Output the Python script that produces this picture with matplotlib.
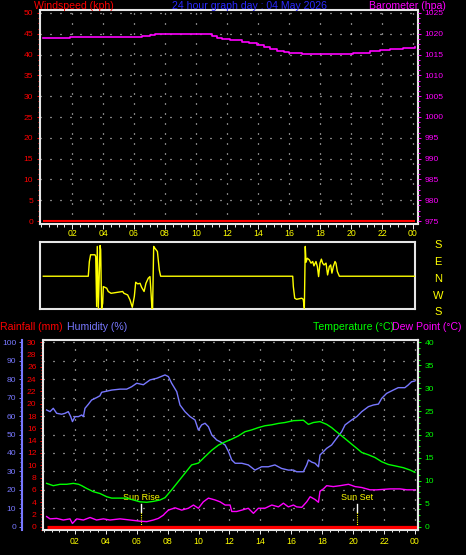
import matplotlib
matplotlib.use('Agg')
import matplotlib.pyplot as plt
from matplotlib.ticker import MultipleLocator, FixedLocator, NullFormatter

plt.rcParams['font.family'] = ['Liberation Sans', 'DejaVu Sans']

# ---------------- data ----------------
title = "24 hour graph day : 04 May 2026"
hour_ticks = [2, 4, 6, 8, 10, 12, 14, 16, 18, 20, 22, 24]
hour_labels = ['02', '04', '06', '08', '10', '12', '14', '16', '18', '20', '22', '00']

wind_hours = [0.15, 24.13]
wind_kph = [0.0, 0.0]

baro_hours = [0.15, 1.87, 1.9, 3.16, 3.81, 5.96, 6.49, 7.03, 7.35, 10.69, 11.0, 11.33, 11.66,
              12.2, 12.98, 13.4, 13.95, 14.38, 14.8, 15.24, 15.67, 15.99, 16.85, 18.57,
              20.15, 21.22, 21.87, 22.52, 23.38, 24.13]
baro_hpa = [1018.9, 1018.9, 1019.2, 1019.3, 1019.3, 1019.3, 1019.5, 1019.7, 1019.9, 1019.9,
            1019.5, 1019.1, 1018.75, 1018.5, 1018.0, 1017.7, 1017.3, 1016.8, 1016.3, 1015.9,
            1015.7, 1015.3, 1015.1, 1015.1, 1015.5, 1015.9, 1016.2, 1016.3, 1016.5, 1016.75]

dir_hours = [0.15, 3.05, 3.12, 3.20, 3.48, 3.53, 3.59, 3.63, 3.70, 3.81, 3.85, 3.91, 3.98, 4.02,
             4.24, 4.34, 4.52, 5.27, 5.35, 5.59, 5.74, 5.89, 6.02, 6.11, 6.24, 6.39, 6.49, 6.65,
             6.77, 6.92, 7.03, 7.08, 7.16, 7.20, 7.27, 7.35, 7.51, 7.63, 7.72, 16.24, 16.28,
             16.37, 16.49, 16.82, 16.92, 16.99, 17.05, 17.10, 17.18, 17.31, 17.42, 17.53, 17.61,
             17.74, 17.83, 17.91, 18.0, 18.09, 18.17, 18.26, 18.39, 18.49, 18.60, 18.69, 18.77,
             18.86, 18.97, 19.03, 19.12, 19.25, 24.13]
dir_deg = [0, 0, 81, 118, 118, 108, 193, 164, 184, 169, 145, 180, 211, 303,
           294, 276, 266, 276, 266, 257, 230, 189, 248, 327, 318, 321, 299, 276,
           321, 349, 358, 294, 180, 184, 164, 154, 136, 35, 0, 0, 303,
           239, 233, 239, 233, 184, 164, 77, 99, 90, 72, 81, 57,
           81, 53, 358, 72, 94, 72, 62, 72, 7, 53, 62, 17,
           53, 81, 72, 26, 0, 0]
dir_labels = ['S', 'E', 'N', 'W', 'S']

hum_hours = [0.17, 0.39, 0.6, 0.82, 1.14, 1.36, 1.57, 1.73, 1.84, 2.01, 2.23, 2.44, 2.55, 2.65,
             2.87, 3.08, 3.4, 3.62, 3.73, 4.06, 4.38, 4.92, 5.35, 5.67, 6.0, 6.43, 6.86, 7.3,
             7.83, 8.05, 8.26, 8.59, 8.8, 9.12, 9.45, 9.77, 9.99, 10.2, 10.42, 10.64, 10.86,
             11.18, 11.39, 11.72, 11.94, 12.15, 12.37, 12.8, 13.22, 13.65, 14.08, 14.51, 14.94,
             15.37, 15.81, 16.14, 16.35, 16.78, 17.0, 17.11, 17.33, 17.54, 17.76, 17.86, 18.08,
             18.29, 18.61, 18.93, 19.26, 19.48, 19.91, 20.24, 20.56, 20.99, 21.31, 21.64, 21.85,
             22.17, 22.6, 22.92, 23.35, 23.56, 23.78, 23.99]
hum_pct = [63.3, 62.4, 64.2, 61.5, 61.0, 61.5, 62.4, 59.7, 57.0, 59.7, 59.7, 60.6, 59.7, 64.2,
           66.4, 68.7, 70.0, 71.0, 72.9, 73.5, 74.1, 74.6, 74.6, 75.9, 77.8, 77.0, 79.6, 80.5,
           82.3, 81.4, 77.8, 73.2, 66.0, 62.4, 59.7, 57.9, 52.4, 55.2, 56.1, 54.2, 49.7,
           47.0, 46.1, 44.3, 40.7, 36.2, 34.4, 34.4, 33.5, 30.7, 32.5, 32.5, 33.5,
           31.6, 30.7, 30.7, 29.8, 29.8, 33.5, 36.2, 35.0, 34.4, 32.5, 38.9, 40.7,
           42.5, 44.3, 47.9, 51.5, 55.2, 57.9, 59.7, 62.4, 65.1, 66.0, 66.5, 69.6,
           72.3, 74.1, 75.4, 75.4, 76.8, 78.6, 79.0]

temp_hours = [0.17, 0.6, 1.04, 1.46, 1.9, 2.24, 2.44, 2.76, 3.19, 3.62, 4.06, 4.38, 4.92, 5.35,
              5.78, 6.21, 6.65, 7.08, 7.51, 7.83, 8.26, 8.69, 9.12, 9.55, 9.99, 10.42, 10.86,
              11.29, 11.72, 12.15, 12.58, 13.0, 13.44, 13.87, 14.3, 14.73, 15.16, 15.59, 16.14,
              16.78, 17.11, 17.43, 17.86, 18.29, 18.61, 18.93, 19.26, 19.59, 19.91, 20.24,
              20.56, 20.99, 21.42, 21.85, 22.28, 22.71, 23.25, 23.68, 24.0]
temp_c = [9.4, 8.9, 9.2, 9.2, 9.4, 9.2, 8.9, 8.3, 7.6, 7.2, 6.5, 6.2, 6.2, 6.2,
          5.8, 5.4, 5.3, 5.5, 5.8, 6.3, 8.0, 9.8, 11.6, 13.4, 13.8, 15.2, 16.6,
          17.7, 18.4, 19.0, 19.7, 20.6, 21.0, 21.5, 21.9, 22.1, 22.4, 22.6, 23.0,
          23.1, 22.2, 22.6, 22.8, 22.2, 21.5, 20.6, 19.7, 18.8, 17.9, 17.0,
          16.1, 15.6, 15.0, 14.1, 13.5, 13.2, 12.8, 12.3, 11.8]

dew_hours = [0.17, 0.39, 0.82, 1.25, 1.68, 1.84, 2.12, 2.55, 2.98, 3.4, 3.84, 4.27, 4.92, 5.57,
             6.21, 6.65, 7.08, 7.4, 7.72, 7.83, 8.05, 8.48, 8.91, 9.34, 9.67, 9.99, 10.31,
             10.64, 11.07, 11.39, 11.72, 12.04, 12.15, 12.47, 12.8, 13.22, 13.55, 13.87, 14.3,
             14.74, 15.17, 15.49, 15.81, 16.14, 16.35, 16.68, 17.0, 17.22, 17.54, 17.76, 17.86,
             18.08, 18.29, 18.72, 19.16, 19.7, 20.13, 20.56, 21.1, 21.53, 22.4, 23.04, 23.48, 24.01]
dew_c = [2.2, 1.7, 1.8, 1.45, 1.7, 0.7, 1.7, 1.45, 2.0, 1.45, 1.7, 1.45, 1.7, 1.45,
         1.2, 1.1, 1.45, 1.8, 2.5, 2.9, 3.6, 4.1, 3.6, 4.0, 4.7, 4.0, 5.4,
         6.2, 5.8, 5.4, 4.7, 4.7, 3.3, 3.3, 3.6, 4.0, 2.9, 4.0, 4.0,
         4.7, 4.3, 5.1, 4.3, 4.7, 4.3, 4.2, 5.4, 6.5, 5.9, 5.3, 7.7,
         8.2, 8.9, 8.7, 8.9, 9.2, 8.7, 8.5, 8.0, 8.0, 8.2, 8.2, 8.0, 8.0]

rain_hours = [0.17, 24.2]
rain_mm = [0.0, 0.0]

sun_events = ['Sun Rise', 'Sun Set']
sun_hours = [6.3, 20.28]

# ---------------- style ----------------
W, H = 466, 555
PX = 0.72  # points per pixel at 100 dpi
RED, MAG, GRN, YEL = '#ff0000', '#ff00ff', '#00ff00', '#ffff00'
HUMC, TITC = '#7878ff', '#2a2aff'
FRAME, GRIDC = '#e6e6e6', '#ffffff'
DOTS = (0, (0.8, 7.2))
YLAB, XLAB, HEAD = 6.1, 6.3, 7.6

fig = plt.figure(figsize=(W / 100, H / 100), dpi=100, facecolor='black')


def box(x0, y0, x1, y1):
    return [x0 / W, 1 - y1 / H, (x1 - x0) / W, (y1 - y0) / H]


def ftext(x, y, s, **kw):
    fig.text(x / W, 1 - y / H, s, **kw)


def frame(ax, sides=('left', 'right', 'top', 'bottom')):
    for k, sp in ax.spines.items():
        if k in sides:
            sp.set_visible(True)
            sp.set_color(FRAME)
            sp.set_linewidth(1.5)
        else:
            sp.set_visible(False)


def grid(ax, xs, ys):
    for x in xs:
        ax.axvline(x, color=GRIDC, lw=0.9, ls=DOTS, zorder=0.5)
    for y in ys:
        ax.axhline(y, color=GRIDC, lw=0.9, ls=DOTS, zorder=0.5)


# ---------------- top panel: wind speed & barometer ----------------
ax1 = fig.add_axes(box(40, 10, 418, 224))
ax1.set_facecolor('black')
ax1.set_xlim(-0.065, 24.32)
ax1.set_ylim(-0.72, 50.72)
ax1b = ax1.twinx()
ax1b.set_ylim(975 - 0.72, 1025.72)
frame(ax1)
frame(ax1b, ())
grid(ax1, hour_ticks, [5, 10, 15, 20, 25, 30, 35, 40, 45, 50])

ax1.yaxis.set_major_locator(MultipleLocator(5))
ax1.yaxis.set_minor_locator(MultipleLocator(1.25))
ax1.tick_params(axis='y', which='major', colors=RED, labelsize=YLAB, length=3.3 * PX, width=PX, pad=3.5 * PX)
ax1.tick_params(axis='y', which='minor', colors=RED, length=1.8 * PX, width=PX)
ax1b.yaxis.set_major_locator(MultipleLocator(5))
ax1b.yaxis.set_minor_locator(MultipleLocator(1.25))
ax1b.tick_params(axis='y', which='major', colors=MAG, labelsize=YLAB, length=3.3 * PX, width=PX, pad=3.5 * PX)
ax1b.tick_params(axis='y', which='minor', colors=MAG, length=1.8 * PX, width=PX)
ax1.xaxis.set_major_locator(FixedLocator(hour_ticks))
ax1.xaxis.set_minor_locator(MultipleLocator(0.5))
ax1.xaxis.set_major_formatter(NullFormatter())
ax1.tick_params(axis='x', which='major', colors=FRAME, length=5 * PX, width=PX)
ax1.tick_params(axis='x', which='minor', colors=FRAME, length=3 * PX, width=PX)

ax1.plot(wind_hours, wind_kph, color=RED, lw=1.5, solid_capstyle='butt', zorder=3)
ax1b.plot(baro_hours, baro_hpa, color=MAG, lw=1.2, drawstyle='steps-post', zorder=3)

ftext(34, 6, 'Windspeed (kph)', color=RED, fontsize=HEAD, ha='left', va='center')
ftext(250, 6, title, color=TITC, fontsize=HEAD, ha='center', va='center')
ftext(446, 6, 'Barometer (hpa)', color=MAG, fontsize=HEAD, ha='right', va='center')

# ---------------- middle panel: wind direction ----------------
ax2 = fig.add_axes(box(40, 241.7, 415, 309.3))
ax2.set_facecolor('black')
ax2.set_xlim(-0.065, 24.13)
ax2.set_ylim(178, 550)
frame(ax2)
ax2.set_yticks([])
ax2.xaxis.tick_top()
ax2.set_xticks(hour_ticks)
ax2.set_xticklabels(hour_labels)
ax2.tick_params(axis='x', colors=YEL, labelsize=XLAB, length=0, pad=2.5)
dir_plot = [d + 360 if d < 180 else d for d in dir_deg]
ax2.plot(dir_hours, dir_plot, color=YEL, lw=1.0, zorder=3)
for lab, yy in zip(dir_labels, [245, 262, 279, 296, 312]):
    ftext(438, yy, lab, color=YEL, fontsize=8, ha='center', va='center')

# ---------------- bottom panel ----------------
ax3 = fig.add_axes(box(43, 340, 418, 530))
ax3.set_facecolor('black')
ax3.set_xlim(-0.065, 24.2)
ax3.set_ylim(-1.79, 101.25)
frame(ax3, ('top', 'bottom', 'right'))
ax3.spines['left'].set_visible(True)
ax3.spines['left'].set_position(('outward', 21.3 * PX))
ax3.spines['left'].set_color(HUMC)
ax3.spines['left'].set_linewidth(1.5)
ax3.yaxis.set_major_locator(MultipleLocator(10))
ax3.yaxis.set_minor_locator(MultipleLocator(2.5))
ax3.tick_params(axis='y', which='major', colors=HUMC, labelsize=YLAB, length=3 * PX, width=PX, pad=2.5 * PX)
ax3.tick_params(axis='y', which='minor', colors=HUMC, length=1.6 * PX, width=PX)
ax3.set_xticks(hour_ticks)
ax3.set_xticklabels(hour_labels)
ax3.xaxis.set_minor_locator(MultipleLocator(0.5))
ax3.tick_params(axis='x', which='major', colors=FRAME, labelcolor=YEL, labelsize=XLAB, length=4 * PX, width=PX, pad=3 * PX)
ax3.tick_params(axis='x', which='minor', colors=FRAME, length=2.5 * PX, width=PX)
grid(ax3, hour_ticks, [10, 20, 30, 40, 50, 60, 70, 80, 90, 100])

ax3r = ax3.twinx()
ax3r.set_ylim(-0.537, 30.375)
ax3r.yaxis.set_ticks_position('left')
frame(ax3r, ('left',))
ax3r.yaxis.set_major_locator(MultipleLocator(2))
ax3r.yaxis.set_minor_locator(MultipleLocator(0.5))
ax3r.tick_params(axis='y', which='major', colors=RED, labelsize=YLAB, length=3 * PX, width=PX, pad=3.5 * PX)
ax3r.tick_params(axis='y', which='minor', colors=RED, length=1.6 * PX, width=PX)

ax3t = ax3.twinx()
ax3t.set_ylim(-0.716, 40.5)
frame(ax3t, ('right',))
ax3t.yaxis.set_major_locator(MultipleLocator(5))
ax3t.yaxis.set_minor_locator(MultipleLocator(1.25))
ax3t.tick_params(axis='y', which='major', colors=GRN, labelsize=YLAB, length=3.3 * PX, width=PX, pad=3.5 * PX)
ax3t.tick_params(axis='y', which='minor', colors=GRN, length=1.8 * PX, width=PX)

ax3.plot(hum_hours, hum_pct, color=HUMC, lw=1.0, zorder=3)
ax3t.plot(temp_hours, temp_c, color=GRN, lw=1.0, zorder=3)
ax3t.plot(dew_hours, dew_c, color=MAG, lw=1.0, zorder=3)
ax3r.plot(rain_hours, rain_mm, color=RED, lw=2.3, solid_capstyle='butt', zorder=4)

for name, h in zip(sun_events, sun_hours):
    ax3.plot([h, h], [8.0, 12.3], color='white', lw=1.0, zorder=4)
    ax3.plot([h, h], [-1.0, 8.0], color=YEL, lw=0.8, ls=(0, (1, 1)), zorder=4)
    ax3.text(h, 15.7, name, color=YEL, fontsize=6.5, ha='center', va='center', zorder=5)

ftext(0.5, 327, 'Rainfall (mm)', color=RED, fontsize=HEAD, ha='left', va='center')
ftext(67, 327, 'Humidity (%)', color=HUMC, fontsize=HEAD, ha='left', va='center')
ftext(313, 327, 'Temperature (°C)', color=GRN, fontsize=HEAD, ha='left', va='center')
ftext(392.5, 327, 'Dew Point (°C)', color=MAG, fontsize=HEAD, ha='left', va='center')

fig.savefig('out.png', dpi=100, facecolor='black')
